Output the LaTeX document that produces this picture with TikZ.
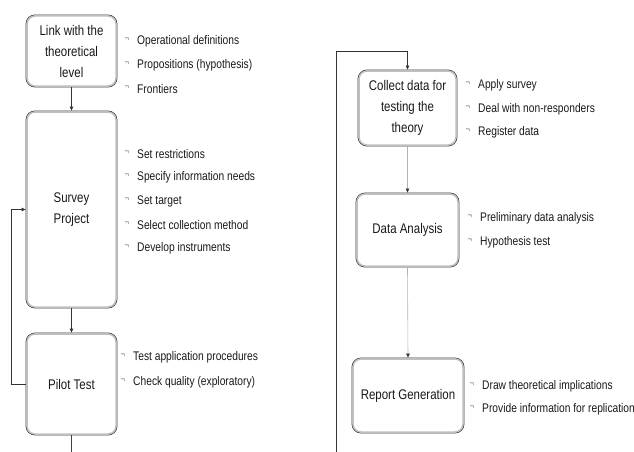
\documentclass[tikz,border=0pt]{standalone}
\usepackage{fontspec}
\newfontfamily\narrow{Liberation Sans}[FakeStretch=0.82]
\usetikzlibrary{arrows.meta}
\tikzset{
  box/.style={draw=black!80, line width=0.8pt, rounded corners=9pt, fill=white, align=center,
    inner sep=0pt, text=black!90, font=\narrow\fontsize{14}{21}\selectfont},
  item/.style={anchor=west, inner sep=0pt, text=black!90, font=\narrow\fontsize{12.5}{15}\selectfont},
  bmark/.style={inner sep=0pt, text=black!55, font=\narrow\fontsize{9.5}{10}\selectfont},
  darkarrow/.style={draw=black!80, line width=0.8pt, -{Triangle[length=4pt,width=3.5pt]}},
  greyarrow/.style={draw=gray!60, line width=0.6pt, -{Triangle[length=4pt,width=3.5pt,color=black!80,fill=black!80]}},
  link/.style={draw=black!75, line width=0.8pt},
}
\newcommand{\innerframe}[1]{%
  \draw[gray!50, line width=1.5pt, rounded corners=8pt]
    ([shift={(1.4pt,-1.4pt)}]#1.north west) rectangle ([shift={(-1.4pt,1.4pt)}]#1.south east);}
\begin{document}
\begin{tikzpicture}[x=1pt,y=-1pt]
\useasboundingbox (0,0) rectangle (634,452);
% left column boxes
\node[box, minimum width=91pt, minimum height=72pt] (link) at (71.5,51) {Link with the\\theoretical\\level};
\node[box, minimum width=91pt, minimum height=197pt] (survey) at (71.5,209.5) {Survey\\Project};
\node[box, minimum width=91pt, minimum height=102pt] (pilot) at (71.5,384) {Pilot Test};
% right column boxes
\node[box, minimum width=99pt, minimum height=76pt] (collect) at (407.5,108) {Collect data for\\testing the\\theory};
\node[box, minimum width=103pt, minimum height=74pt] (analysis) at (407.5,230) {Data Analysis};
\node[box, minimum width=112pt, minimum height=75pt] (report) at (408,395.5) {Report Generation};
\foreach \b in {link,survey,pilot,collect,analysis,report} {\innerframe{\b}}
% connectors
\coordinate (lend) at (71.5,452);
\coordinate (rstart) at (336,452);
\coordinate (rturn) at (336,51);
\draw[darkarrow] (link.south) -- (survey.north);
\draw[darkarrow] (survey.south) -- (pilot.north);
\draw[link] (pilot.south) -- (lend);
\draw[darkarrow] (pilot.west) -- ++(-14,0) |- (survey.west);
\draw[darkarrow] (rstart) -- (rturn) -| (collect.north);
\draw[greyarrow] (collect.south) -- (analysis.north);
\draw[greyarrow] (analysis.south) -- (report.north);
% bullet items
\foreach \n/\mx/\tx/\y/\t in {
  a1/127/137/41/Operational definitions,
  a2/127/137/65/Propositions (hypothesis),
  a3/127/137/89/Frontiers,
  b1/127/137/154/Set restrictions,
  b2/127/137/177/Specify information needs,
  b3/127/137/201/Set target,
  b4/127/137/225/Select collection method,
  b5/127/137/248/Develop instruments,
  c1/123/133/357/Test application procedures,
  c2/123/133/382/Check quality (exploratory),
  d1/468/478/85/Apply survey,
  d2/468/478/109/Deal with non-responders,
  d3/468/478/132/Register data,
  e1/470/480/218/Preliminary data analysis,
  e2/470/480/242/Hypothesis test,
  f1/472/482/386/Draw theoretical implications,
  f2/472/482/409/Provide information for replication}
{
  \node[bmark] (\n m) at (\mx,\y-1.5) {¬};
  \node[item] (\n) at (\tx,\y) {\t};
}
\end{tikzpicture}
\end{document}
